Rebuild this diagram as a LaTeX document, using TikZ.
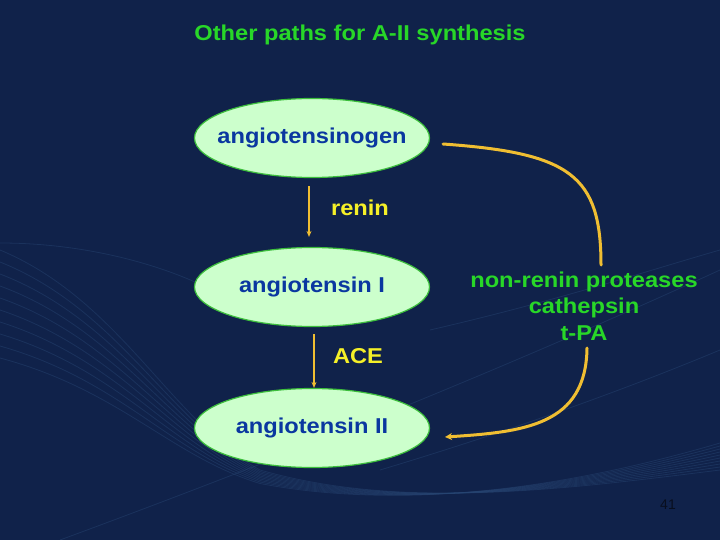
\documentclass[tikz,border=0pt]{standalone}
\usepackage{fontspec}
\setmainfont{Liberation Sans}[FakeStretch=1.1]
\newfontfamily\numfont{Liberation Sans}
\usetikzlibrary{shapes.geometric,arrows.meta}
\definecolor{bg}{RGB}{16,34,74}
\definecolor{wave}{RGB}{40,70,115}
\definecolor{elfill}{RGB}{204,255,204}
\definecolor{elborder}{RGB}{60,190,60}
\definecolor{txtblue}{RGB}{10,55,160}
\definecolor{ttlgreen}{RGB}{40,215,40}
\definecolor{arrowy}{RGB}{240,190,50}
\definecolor{labely}{RGB}{245,240,40}
\definecolor{pgnum}{RGB}{8,14,30}
\tikzset{
  slidetext/.style={font=\fontsize{21.5}{26.5}\selectfont\bfseries, inner sep=0pt},
  bubble/.style={ellipse, draw=elborder, line width=1.2pt, fill=elfill,
    minimum width=235pt, minimum height=79pt, inner sep=0pt,
    text=txtblue, slidetext},
  steparrow/.style={draw=arrowy, line width=1.8pt, -{Stealth[length=6pt,width=5pt]}},
  bendarrow/.style={draw=arrowy, line width=3pt, line cap=round},
  wavel/.style={draw=wave, line width=0.8pt, opacity=0.45},
}
\begin{document}
\begin{tikzpicture}[x=1pt,y=-1pt]
\fill[bg] (0,0) rectangle (720,540);
\useasboundingbox (0,0) rectangle (720,540);
% decorative background waves
\foreach \i in {0,...,9} {
  \draw[wavel] (0,250+12*\i) .. controls (120,300+10*\i) and (170,420+4*\i) .. (260,470+1.5*\i)
     .. controls (400,510) and (560,490) .. (720,470-3*\i);
}
\draw[wavel] (0,243) .. controls (80,243) and (150,262) .. (195,282);
\draw[wavel] (60,540) .. controls (250,470) and (480,380) .. (720,270);
\draw[wavel] (430,330) .. controls (560,300) and (650,270) .. (720,250);
\draw[wavel] (380,470) .. controls (480,440) and (600,400) .. (720,350);

% title
\node[slidetext, text=ttlgreen] (title) at (360,35) {Other paths for A-II synthesis};

% ellipses
\node[bubble] (ago) at (312,138) {\makebox[0pt]{angiotensinogen}};
\node[bubble] (a1) at (312,287) {\makebox[0pt]{angiotensin I}};
\node[bubble] (a2) at (312,428) {\makebox[0pt]{angiotensin II}};

% labels
\node[slidetext, text=labely] (renin) at (360,208) {renin};
\node[slidetext, text=labely] (ace) at (358,356) {ACE};
\node[slidetext, text=ttlgreen, align=center] (nrp) at (584,306)
  {non-renin proteases\\cathepsin\\t-PA};

% straight arrows
\draw[steparrow, shorten <=8pt, shorten >=10pt] ([xshift=-3pt]ago.south) -- ([xshift=-3pt]a1.north);
\draw[steparrow, shorten <=7pt] ([xshift=2pt]a1.south) -- ([xshift=2pt]a2.north);

% bent arrows
\coordinate (c1s) at (443,144);
\coordinate (c1e) at (601,265);
\coordinate (c2s) at (587,348);
\coordinate (c2e) at (445,437);
\draw[bendarrow] (c1s) .. controls (570,153) and (601,175) .. (c1e);
\draw[bendarrow, -{Stealth[length=7pt,width=7pt]}] (c2s) .. controls (586,425) and (525,432) .. (c2e);

% page number
\node[font=\numfont\fontsize{14}{16}\selectfont, text=pgnum, inner sep=0pt] (pg) at (668,505) {41};
\end{tikzpicture}
\end{document}
